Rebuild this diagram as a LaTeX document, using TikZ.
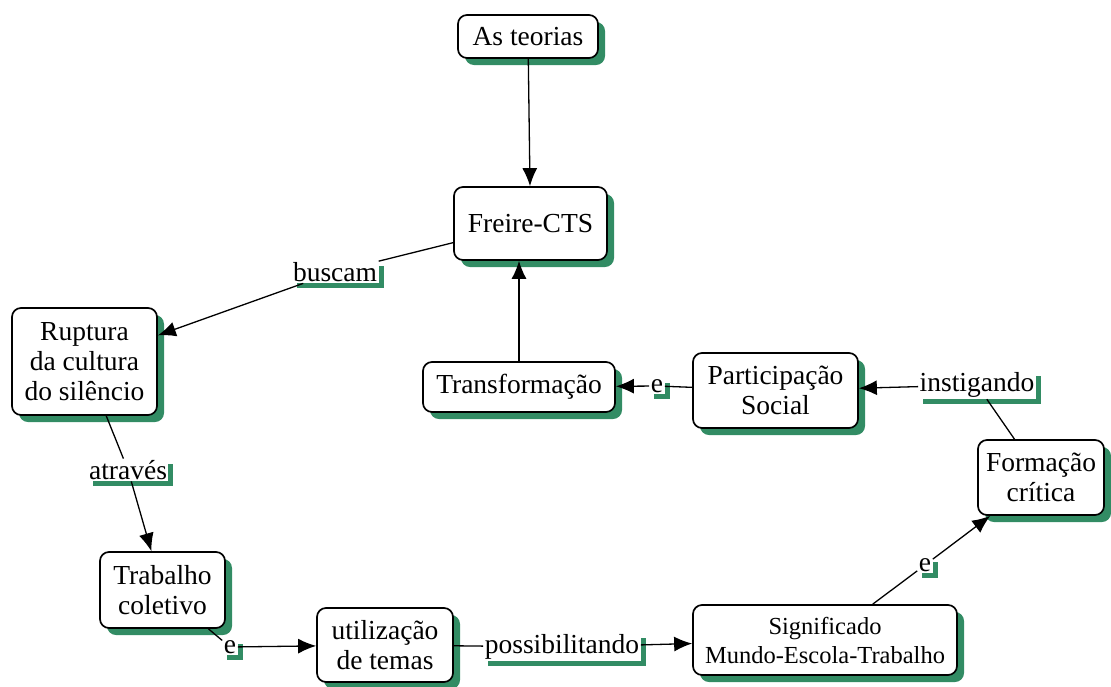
\documentclass[tikz,border=0pt]{standalone}
\usepackage{fontspec}
\setmainfont{Liberation Serif}
\usetikzlibrary{arrows.meta,shadows}
\definecolor{shgreen}{RGB}{50,140,100}
\tikzset{
  concept/.style={draw=black, line width=1.7pt, rounded corners=9pt, fill=white,
    align=center, inner sep=0pt, font=\fontsize{27.5}{30}\selectfont,
    drop shadow={shadow xshift=7pt, shadow yshift=-7pt, fill=shgreen, opacity=1}},
  smallconcept/.style={concept, font=\fontsize{24.5}{29}\selectfont},
  linklabel/.style={fill=white, inner sep=1.5pt, font=\fontsize{27.5}{30}\selectfont,
    drop shadow={shadow xshift=5pt, shadow yshift=-5pt, fill=shgreen, opacity=1}},
  link/.style={draw=black, line width=1.3pt},
  arrowlink/.style={link, -{Latex[length=18pt,width=15pt]}},
}
\begin{document}
\begin{tikzpicture}[x=1pt,y=-1pt]
\useasboundingbox (0,0) rectangle (1111,686);

% concepts
\node[concept, minimum width=140pt, minimum height=43pt] (teorias) at (528,36.5) {As teorias};
\node[concept, minimum width=153pt, minimum height=73pt] (freire) at (530.5,223.5) {Freire-CTS};
\node[concept, minimum width=145pt, minimum height=107pt] (ruptura) at (84.5,361.5) {Ruptura\\da cultura\\do silêncio};
\node[concept, minimum width=125pt, minimum height=76pt] (trabalho) at (162.5,590) {Trabalho\\coletivo};
\node[concept, minimum width=136pt, minimum height=74pt] (temas) at (385,645) {utilização\\de temas};
\node[smallconcept, minimum width=264pt, minimum height=70pt] (signif) at (825,640) {Significado\\Mundo-Escola-Trabalho};
\node[concept, minimum width=126pt, minimum height=75pt] (formacao) at (1041,477.5) {Formação\\crítica};
\node[concept, minimum width=165pt, minimum height=75pt] (particip) at (775.5,390.5) {Participação\\Social};
\node[concept, minimum width=192pt, minimum height=50pt] (transf) at (519,387) {Transformação};

% linking phrases
\node[linklabel] (buscam) at (335,272) {buscam};
\node[linklabel] (atraves) at (128,470) {através};
\node[linklabel] (e1) at (230,647) {e};
\node[linklabel] (possib) at (562,647) {possibilitando};
\node[linklabel] (e2) at (925,565) {e};
\node[linklabel] (instig) at (977,385) {instigando};
\node[linklabel] (e3) at (657,386) {e};

% connections
\draw[arrowlink] (teorias) -- (freire);
\draw[link] (freire) -- (buscam);
\draw[arrowlink] (buscam) -- (ruptura);
\draw[link] (ruptura) -- (atraves);
\draw[arrowlink] (atraves) -- (trabalho);
\draw[link] (trabalho) -- (e1);
\draw[arrowlink] (e1) -- (temas);
\draw[link] (temas) -- (possib);
\draw[arrowlink] (possib) -- (signif);
\draw[link] (signif) -- (e2);
\draw[arrowlink] (e2) -- (formacao);
\draw[link] (formacao) -- (instig);
\draw[arrowlink] (instig) -- (particip);
\draw[link] (particip) -- (e3);
\draw[arrowlink] (e3) -- (transf);
\draw[arrowlink] (transf) -- (transf |- freire.south);
\end{tikzpicture}
\end{document}
